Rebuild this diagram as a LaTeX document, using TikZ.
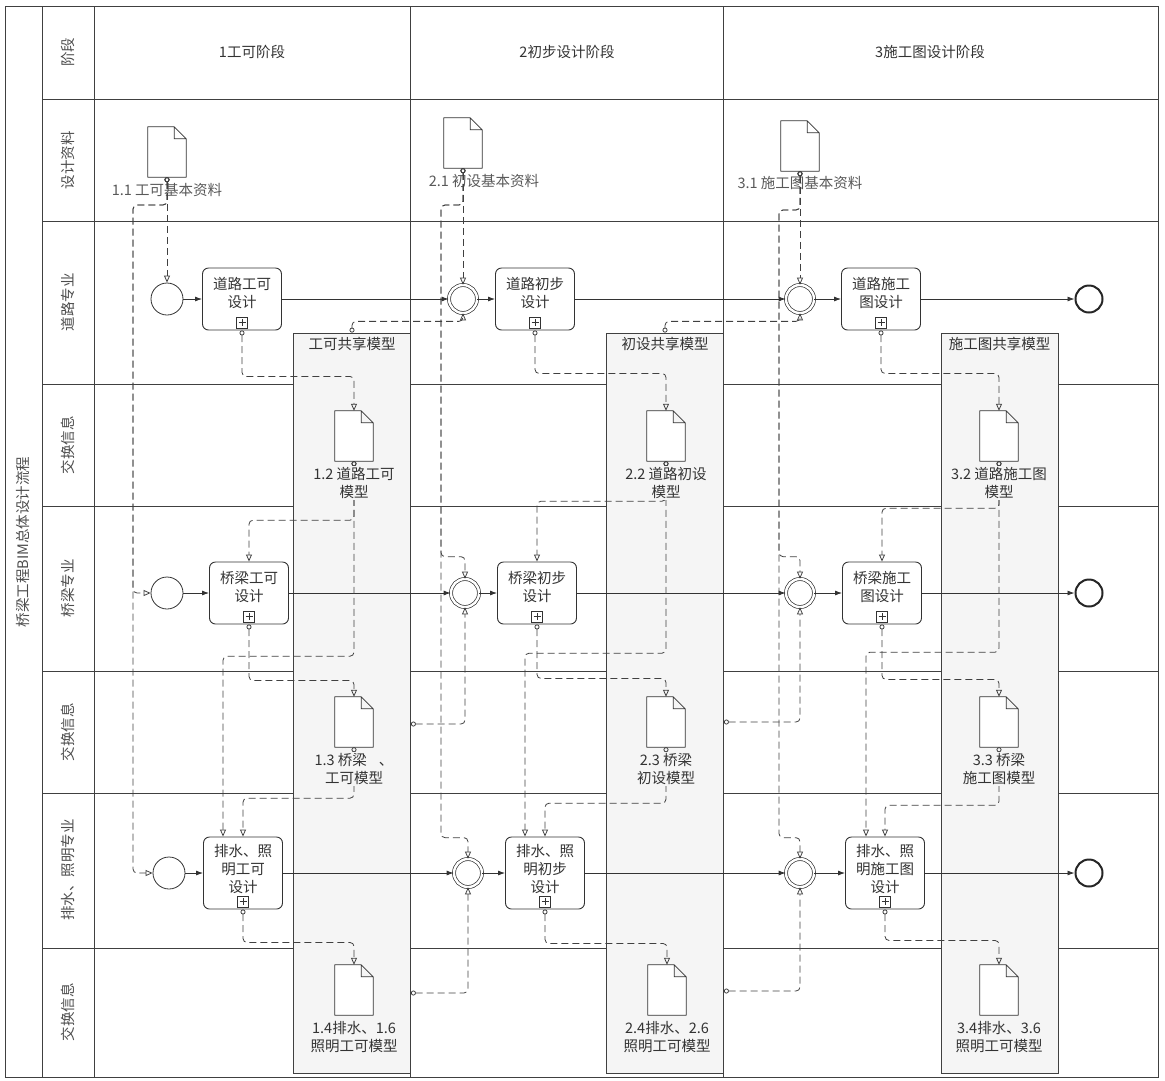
\documentclass[tikz,border=0pt]{standalone}
\usepackage{fontspec}
\setmainfont{Noto Sans CJK SC}
\usetikzlibrary{arrows.meta,positioning,calc}

\begin{document}
\begin{tikzpicture}[
    x=1pt, y=-1pt,
    every node/.style={font=\fontsize{14.5}{18}\selectfont, text=black!80},
    lane/.style={draw=black!75, line width=0.8pt},
    lanename/.style={rotate=90, text=black!70},
    sharebox/.style={rectangle, draw=black!75, fill=black!4, line width=0.8pt, minimum width=117pt, minimum height=740pt, inner sep=0pt},
    sharename/.style={inner sep=3pt},
    datadoc/.style={rectangle, minimum width=38pt, minimum height=50pt, inner sep=0pt},
    docline/.style={draw=black!80, fill=white, line width=0.8pt, line join=round},
    doclabel/.style={align=center, inner sep=1pt, text=black!65},
    xlabel/.style={align=center, inner sep=1pt, fill=black!4},
    task/.style={rectangle, rounded corners=6pt, draw=black!80, fill=white, line width=0.9pt, minimum width=79pt, minimum height=62pt},
    task3/.style={task, minimum height=72pt},
    tasktext/.style={align=center, inner sep=0pt, yshift=6pt},
    tasktext3/.style={align=center, inner sep=0pt, yshift=4pt},
    marker/.style={draw=black!80, line width=0.7pt},
    startev/.style={circle, draw=black!80, fill=white, line width=0.8pt, minimum size=32pt, inner sep=0pt},
    midev/.style={circle, draw=black!80, fill=white, double, double distance=2.4pt, line width=0.7pt, minimum size=28pt, inner sep=0pt},
    endev/.style={circle, draw=black!85, fill=white, line width=2pt, minimum size=27pt, inner sep=0pt},
    flow/.style={-{Latex[length=7pt,width=5pt]}, draw=black!80, line width=0.8pt},
    assoc/.style={{Circle[open,length=5pt]}-{Triangle[open,length=7pt,width=6pt]}, draw=black!75, line width=0.8pt, dash pattern=on 7pt off 4pt, rounded corners=4pt}
]
    \useasboundingbox (0,0) rectangle (1165,1080);

    % pool and lanes
    \draw[lane] (5,6) rectangle (1158,1077);
    \draw[lane] (42,6) -- (42,1077);
    \draw[lane] (94,6) -- (94,1077);
    \draw[lane] (410,6) -- (410,1077);
    \draw[lane] (723,6) -- (723,1077);
    \foreach \y in {99,221,384,506,671,793,948}
        \draw[lane] (42,\y) -- (1158,\y);

    \node[lanename] (title) at (23,542) {桥梁工程BIM总体设计流程};
    \node[lanename] (ln0) at (68,52) {阶段};
    \node[lanename] (ln1) at (68,160) {设计资料};
    \node[lanename] (ln2) at (68,302) {道路专业};
    \node[lanename] (ln3) at (68,445) {交换信息};
    \node[lanename] (ln4) at (68,588) {桥梁专业};
    \node[lanename] (ln5) at (68,732) {交换信息};
    \node[lanename] (ln6) at (68,870) {排水、照明专业};
    \node[lanename] (ln7) at (68,1012) {交换信息};

    \node (ph1) at (252,52) {1工可阶段};
    \node (ph2) at (567,52) {2初步设计阶段};
    \node (ph3) at (930,52) {3施工图设计阶段};

    % shared models
    \node[sharebox] (sh1) at (352,703) {};
    \node[sharebox] (sh2) at (665,703) {};
    \node[sharebox] (sh3) at (999.5,703) {};
    \node[sharename, below=1pt of sh1.north] (sh1t) {工可共享模型};
    \node[sharename, below=1pt of sh2.north] (sh2t) {初设共享模型};
    \node[sharename, below=1pt of sh3.north] (sh3t) {施工图共享模型};

    % data objects
    \node[datadoc] (d11) at (167,152) {};
    \node[datadoc] (d21) at (463,143) {};
    \node[datadoc] (d31) at (800,146) {};
    \node[datadoc] (m12) at (354,436) {};
    \node[datadoc] (m22) at (666,436) {};
    \node[datadoc] (m32) at (999,436) {};
    \node[datadoc] (m13) at (354,722) {};
    \node[datadoc] (m23) at (666,722) {};
    \node[datadoc] (m33) at (999,722) {};
    \node[datadoc] (m14) at (354,990) {};
    \node[datadoc] (m24) at (667,990) {};
    \node[datadoc] (m34) at (999,990) {};
    \foreach \d in {d11,d21,d31,m12,m22,m32,m13,m23,m33,m14,m24,m34}
        \draw[docline] (\d.north west) -- ([xshift=-12pt]\d.north east) -- ([yshift=-12pt]\d.north east)
            -- (\d.south east) -- (\d.south west) -- cycle
            ([xshift=-12pt]\d.north east) |- ([yshift=-12pt]\d.north east);

    \node[doclabel] (d11l) at (167,190) {1.1 工可基本资料};
    \node[doclabel] (d21l) at (484,181) {2.1 初设基本资料};
    \node[doclabel] (d31l) at (800,183) {3.1 施工图基本资料};

    % tasks
    \node[task, label={[tasktext]center:道路工可\\设计}] (t11) at (242,299) {};
    \node[task, label={[tasktext]center:桥梁工可\\设计}] (t12) at (249,593) {};
    \node[task3, label={[tasktext3]center:排水、照\\明工可\\设计}] (t13) at (243,873) {};
    \node[task, label={[tasktext]center:道路初步\\设计}] (t21) at (535,299) {};
    \node[task, label={[tasktext]center:桥梁初步\\设计}] (t22) at (537,593) {};
    \node[task3, label={[tasktext3]center:排水、照\\明初步\\设计}] (t23) at (545,873) {};
    \node[task, label={[tasktext]center:道路施工\\图设计}] (t31) at (881,299) {};
    \node[task, label={[tasktext]center:桥梁施工\\图设计}] (t32) at (882,593) {};
    \node[task3, label={[tasktext3]center:排水、照\\明施工图\\设计}] (t33) at (885,873) {};
    \foreach \t in {t11,t12,t13,t21,t22,t23,t31,t32,t33} {
        \draw[marker] ([xshift=-5.5pt,yshift=2.5pt]\t.south) rectangle ([xshift=5.5pt,yshift=13.5pt]\t.south);
        \draw[marker] ([yshift=4.5pt]\t.south) -- ([yshift=11.5pt]\t.south)
            ([xshift=-3.5pt,yshift=8pt]\t.south) -- ([xshift=3.5pt,yshift=8pt]\t.south);
    }

    % events
    \node[startev] (s1) at (167,299) {};
    \node[startev] (s2) at (167,593) {};
    \node[startev] (s3) at (169,873) {};
    \node[midev] (e21) at (463,299) {};
    \node[midev] (e22) at (465,593) {};
    \node[midev] (e23) at (468,873) {};
    \node[midev] (e31) at (800,299) {};
    \node[midev] (e32) at (800,593) {};
    \node[midev] (e33) at (800,873) {};
    \node[endev] (f1) at (1089,299) {};
    \node[endev] (f2) at (1089,593) {};
    \node[endev] (f3) at (1089,873) {};

    % sequence flows
    \foreach \r in {1,2,3} {
        \draw[flow] (s\r) -- (t1\r);
        \draw[flow] (t1\r) -- (e2\r);
        \draw[flow] (e2\r) -- (t2\r);
        \draw[flow] (t2\r) -- (e3\r);
        \draw[flow] (e3\r) -- (t3\r);
        \draw[flow] (t3\r) -- (f\r);
    }

    % design data inputs
    \coordinate (b1) at (133,205);
    \coordinate (b2) at (441,205);
    \coordinate (b3) at (779,210);
    \draw[assoc] (d11.south) -- (s1.north);
    \draw[assoc] (d11.south) |- (b1) |- (s2.west);
    \draw[assoc] (d11.south) |- (b1) |- (s3.west);
    \draw[assoc] (d21.south) -- (e21.north);
    \draw[assoc] (d21.south) |- (b2) |- ([yshift=22pt]e22.north) -- (e22.north);
    \draw[assoc] (d21.south) |- (b2) |- ([yshift=21pt]e23.north) -- (e23.north);
    \draw[assoc] (d31.south) -- (e31.north);
    \draw[assoc] (d31.south) |- (b3) |- ([yshift=22pt]e32.north) -- (e32.north);
    \draw[assoc] (d31.south) |- (b3) |- ([yshift=21pt]e33.north) -- (e33.north);

    % shared models into next phase
    \draw[assoc] (sh1.north) |- ([yshift=-8pt]e21.south) -- (e21.south);
    \draw[assoc] ([yshift=-21pt]sh1.east) -| (e22.south);
    \draw[assoc] ([yshift=-290pt]sh1.east) -| (e23.south);
    \draw[assoc] (sh2.north) |- ([yshift=-8pt]e31.south) -- (e31.south);
    \draw[assoc] ([yshift=-19pt]sh2.east) -| (e32.south);
    \draw[assoc] ([yshift=-288pt]sh2.east) -| (e33.south);

    % phase 1 exchange
    \draw[assoc] (t11.south) -- ++(0,46) -| (m12.north);
    \draw[assoc] (m12.south) -- ++(0,59) -| (t12.north);
    \draw[assoc] (m12.south) -- ++(0,195) -| ([xshift=-20pt]t13.north);
    \draw[assoc] (t12.south) -- ++(0,56) -| (m13.north);
    \draw[assoc] (m13.south) -- ++(0,51) -| (t13.north);
    \draw[assoc] (t13.south) -- ++(0,33) -| (m14.north);

    % phase 2 exchange
    \draw[assoc] (t21.south) -- ++(0,43) -| (m22.north);
    \draw[assoc] (m22.south) -- ++(0,40) -| (t22.north);
    \draw[assoc] (m22.south) -- ++(0,192) -| ([xshift=-20pt]t23.north);
    \draw[assoc] (t22.south) -- ++(0,54) -| (m23.north);
    \draw[assoc] (m23.south) -- ++(0,56) -| (t23.north);
    \draw[assoc] (t23.south) -- ++(0,34) -| (m24.north);

    % phase 3 exchange
    \draw[assoc] (t31.south) -- ++(0,43) -| (m32.north);
    \draw[assoc] (m32.south) -- ++(0,47) -| (t32.north);
    \draw[assoc] (m32.south) -- ++(0,191) -| ([xshift=-19pt]t33.north);
    \draw[assoc] (t32.south) -- ++(0,55) -| (m33.north);
    \draw[assoc] (m33.south) -- ++(0,58) -| (t33.north);
    \draw[assoc] (t33.south) -- ++(0,31) -| (m34.north);

    % exchange model labels
    \node[xlabel, below=5pt of m12] (m12l) {1.2 道路工可\\模型};
    \node[xlabel, below=5pt of m22] (m22l) {2.2 道路初设\\模型};
    \node[xlabel, below=5pt of m32] (m32l) {3.2 道路施工图\\模型};
    \node[xlabel, below=5pt of m13] (m13l) {1.3 桥梁\hspace{12pt}、\\工可模型};
    \node[xlabel, below=5pt of m23] (m23l) {2.3 桥梁\\初设模型};
    \node[xlabel, below=5pt of m33] (m33l) {3.3 桥梁\\施工图模型};
    \node[xlabel, below=5pt of m14] (m14l) {1.4排水、1.6\\照明工可模型};
    \node[xlabel, below=5pt of m24] (m24l) {2.4排水、2.6\\照明工可模型};
    \node[xlabel, below=5pt of m34] (m34l) {3.4排水、3.6\\照明工可模型};
\end{tikzpicture}
\end{document}
